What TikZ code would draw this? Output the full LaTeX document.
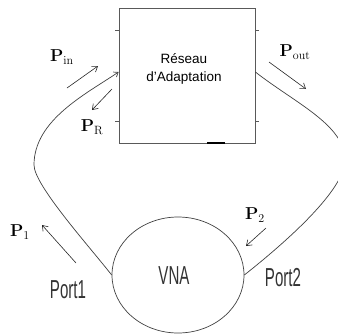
\documentclass[tikz,border=0pt]{standalone}
\usepackage[no-math]{fontspec}
\setmainfont{Liberation Sans}
\newfontfamily\narrowfont[FakeStretch=0.58]{Liberation Sans}
\DeclareMathSizes{16}{16}{12.5}{10}
\usetikzlibrary{shapes.geometric, arrows.meta, positioning}

\begin{document}
\begin{tikzpicture}[
  x=1pt, y=-1pt,
  wire/.style={line width=0.7pt, draw=black!75},
  flow/.style={line width=0.6pt, draw=black!85, -{Straight Barb[length=5pt,width=7pt]}},
  plabel/.style={font=\fontsize{16}{16}\selectfont, inner sep=0pt},
  portlabel/.style={font=\narrowfont\fontsize{26}{26}\selectfont, inner sep=0pt, text=black!80}
]
\useasboundingbox (0,0) rectangle (338,335);

\node[draw=black!65, line width=0.8pt, minimum width=136pt, minimum height=135pt, inner sep=0pt]
  (box) at (187,75.5) {};
\node[font=\fontsize{13.5}{18}\selectfont, align=center, inner sep=0pt] (boxtext) at (184,69)
  {Réseau\\d’Adaptation};
\node[ellipse, wire, minimum width=132pt, minimum height=116pt, inner sep=0pt] (vna) at (178,275) {};
\node[portlabel] (vnatext) at (174,276) {VNA};
\node[portlabel] (port1) at (68,290) {Port1};
\node[portlabel] (port2) at (283,278) {Port2};

% ticks on the box
\draw[draw=black!65, line width=0.8pt] (115,30) -- (119,30) (115,121) -- (119,121)
  (255,30) -- (259,30) (255,121) -- (259,121);
\draw[line width=2pt] (207,143) -- (225,143);

\coordinate (inL)  at ([yshift=3.5pt]box.west);
\coordinate (outR) at ([yshift=3.5pt]box.east);

\draw[wire, -{Straight Barb[length=4pt,width=6pt]}] (vna.west) .. controls (89,246) and (34,185) .. (34,165)
  .. controls (34,120) and (86,94) .. (inL);
\draw[wire] (outR) .. controls (295,103) and (345,125) .. (345,160)
  .. controls (345,190) and (286,242) .. (vna.east);

\coordinate (pinA) at (67,88);   \coordinate (pinB) at (98,66);
\coordinate (prA)  at (112,89);  \coordinate (prB)  at (92,110);
\coordinate (poA)  at (269,62);  \coordinate (poB)  at (306,89);
\coordinate (p1A)  at (76,263);  \coordinate (p1B)  at (42,225);
\coordinate (p2A)  at (266,228); \coordinate (p2B)  at (246,246);

\draw[flow] (pinA) -- (pinB);
\draw[flow] (prA)  -- (prB);
\draw[flow] (poA)  -- (poB);
\draw[flow] (p1A)  -- (p1B);
\draw[flow] (p2A)  -- (p2B);

\node[plabel] (pin)  at (62,57)   {$\mathbf{P}_{\mathrm{in}}$};
\node[plabel] (pr)   at (92,127)  {$\mathbf{P}_{\mathrm{R}}$};
\node[plabel] (pout) at (295,52)  {$\mathbf{P}_{\mathrm{out}}$};
\node[plabel] (p1)   at (20,232)  {$\mathbf{P}_{1}$};
\node[plabel] (p2)   at (255,215) {$\mathbf{P}_{2}$};
\end{tikzpicture}
\end{document}
